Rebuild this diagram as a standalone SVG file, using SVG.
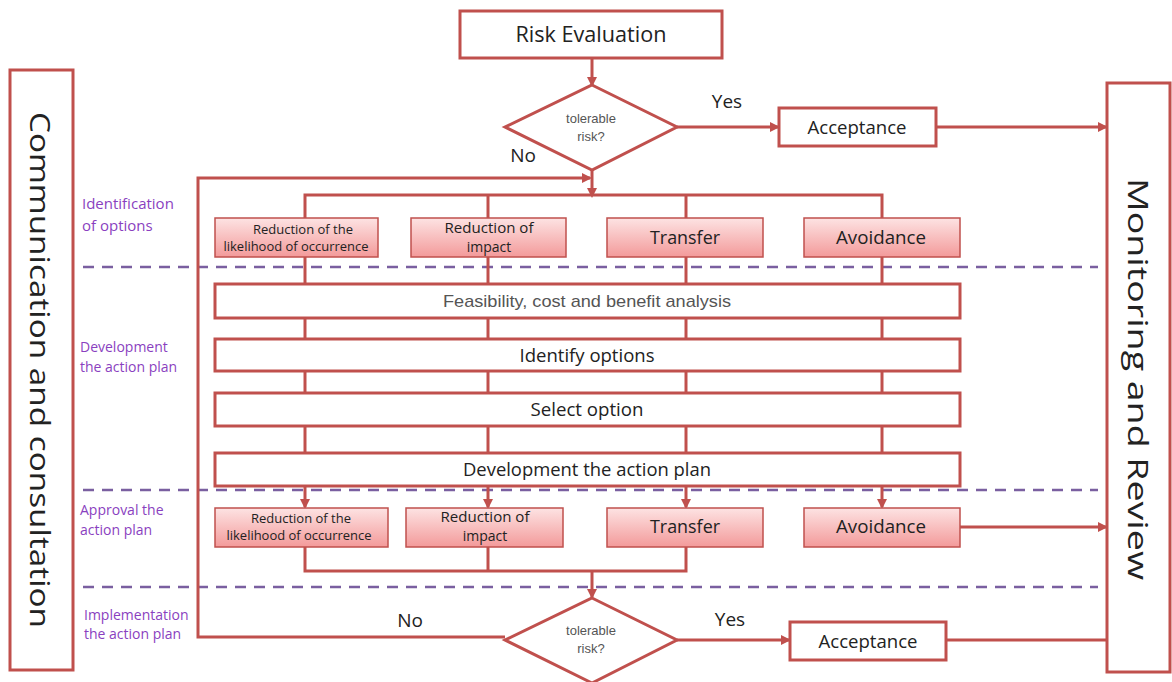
<svg xmlns="http://www.w3.org/2000/svg" width="1172" height="682" viewBox="0 0 1172 682">
<style>
.box{fill:#fff;stroke:#c0504d;stroke-width:3}
.pink{fill:url(#pg);stroke:#c0504d;stroke-width:1.5}
.ln{fill:none;stroke:#c0504d;stroke-width:3}
.arr{fill:none;stroke:#c0504d;stroke-width:3;marker-end:url(#ah)}
.dash{stroke:#7a5fa0;stroke-width:2.5;stroke-dasharray:11 8}
.t{font-family:"Open Sans","Liberation Sans",sans-serif;fill:#222;text-anchor:middle}
.g{font-family:"Liberation Sans",sans-serif;fill:#555;text-anchor:middle;font-size:13px}
.p{font-family:"Open Sans","Liberation Sans",sans-serif;fill:#8a3fc0;font-size:15px}
</style>
<defs>
<linearGradient id="pg" x1="0" y1="0" x2="0" y2="1">
<stop offset="0" stop-color="#fde3e3"/>
<stop offset="1" stop-color="#f39a9a"/>
</linearGradient>
<marker id="ah" markerWidth="10" markerHeight="10" refX="8" refY="5" orient="auto" markerUnits="userSpaceOnUse">
<path d="M0,0 L10,5 L0,10 z" fill="#c0504d"/>
</marker>
</defs>
<rect width="1172" height="682" fill="#fff"/>

<g id="dashes">
<line class="dash" x1="83" y1="267" x2="1098" y2="267"/>
<line class="dash" x1="83" y1="490" x2="1098" y2="490"/>
<line class="dash" x1="83" y1="587" x2="1098" y2="587"/>
</g>

<g id="connectors">
<line class="arr" x1="592" y1="58" x2="592" y2="85"/>
<line class="arr" x1="677" y1="127" x2="778" y2="127"/>
<line class="arr" x1="936" y1="127" x2="1106" y2="127"/>
<line class="arr" x1="592" y1="170" x2="592" y2="196"/>
<polyline class="arr" points="505,637 198,637 198,178 590,178"/>
<polyline class="ln" points="305,218 305,195 882,195 882,218"/>
<line class="ln" x1="488" y1="195" x2="488" y2="218"/>
<line class="ln" x1="686" y1="195" x2="686" y2="218"/>
<line class="ln" x1="305" y1="257" x2="305" y2="284"/>
<line class="ln" x1="488" y1="257" x2="488" y2="284"/>
<line class="ln" x1="686" y1="257" x2="686" y2="284"/>
<line class="ln" x1="882" y1="257" x2="882" y2="284"/>
<line class="ln" x1="305" y1="318" x2="305" y2="339"/>
<line class="ln" x1="488" y1="318" x2="488" y2="339"/>
<line class="ln" x1="686" y1="318" x2="686" y2="339"/>
<line class="ln" x1="882" y1="318" x2="882" y2="339"/>
<line class="ln" x1="305" y1="371" x2="305" y2="393"/>
<line class="ln" x1="488" y1="371" x2="488" y2="393"/>
<line class="ln" x1="686" y1="371" x2="686" y2="393"/>
<line class="ln" x1="882" y1="371" x2="882" y2="393"/>
<line class="ln" x1="305" y1="426" x2="305" y2="453"/>
<line class="ln" x1="488" y1="426" x2="488" y2="453"/>
<line class="ln" x1="686" y1="426" x2="686" y2="453"/>
<line class="ln" x1="882" y1="426" x2="882" y2="453"/>
<line class="arr" x1="305" y1="486" x2="305" y2="507"/>
<line class="arr" x1="488" y1="486" x2="488" y2="507"/>
<line class="arr" x1="686" y1="486" x2="686" y2="507"/>
<line class="arr" x1="882" y1="486" x2="882" y2="507"/>
<line class="arr" x1="960" y1="527" x2="1106" y2="527"/>
<polyline class="ln" points="305,547 305,571 686,571 686,547"/>
<line class="ln" x1="488" y1="547" x2="488" y2="571"/>
<line class="arr" x1="592" y1="571" x2="592" y2="597"/>
<line class="arr" x1="677" y1="640" x2="789" y2="640"/>
<line class="ln" x1="946" y1="640" x2="1107" y2="640"/>
</g>

<g id="communication">
<rect class="box" x="10" y="70" width="63" height="600"/>
<text class="t" font-size="28" transform="translate(30,370) rotate(90)" textLength="516" lengthAdjust="spacingAndGlyphs">Communication and consultation</text>
</g>
<g id="monitoring">
<rect class="box" x="1107" y="83" width="63" height="589"/>
<text class="t" font-size="28" transform="translate(1128,379) rotate(90)" textLength="402" lengthAdjust="spacingAndGlyphs">Monitoring and Review</text>
</g>

<g id="risk-evaluation">
<rect class="box" x="460" y="11" width="262" height="47"/>
<text class="t" x="591" y="42" font-size="22" textLength="151" lengthAdjust="spacingAndGlyphs">Risk Evaluation</text>
</g>
<g id="decision1">
<polygon class="box" points="592,85 677,127 592,170 505,127"/>
<text class="g" x="591" y="123">tolerable</text>
<text class="g" x="591" y="141">risk?</text>
<text class="t" x="727" y="108" font-size="19">Yes</text>
<text class="t" x="523" y="162" font-size="19">No</text>
</g>
<g id="acceptance1">
<rect class="box" x="779" y="108" width="157" height="38"/>
<text class="t" x="857" y="134" font-size="19" textLength="99" lengthAdjust="spacingAndGlyphs">Acceptance</text>
</g>

<g id="options-top">
<rect class="pink" x="215" y="218" width="163" height="39"/>
<text class="t" x="303" y="234" font-size="12" textLength="100" lengthAdjust="spacingAndGlyphs">Reduction of the</text>
<text class="t" x="296" y="251" font-size="12" textLength="145" lengthAdjust="spacingAndGlyphs">likelihood of occurrence</text>
<rect class="pink" x="411" y="218" width="155" height="39"/>
<text class="t" x="489" y="233" font-size="14" textLength="89" lengthAdjust="spacingAndGlyphs">Reduction of</text>
<text class="t" x="489" y="252" font-size="14">impact</text>
<rect class="pink" x="607" y="218" width="156" height="39"/>
<text class="t" x="685" y="244" font-size="18" textLength="70" lengthAdjust="spacingAndGlyphs">Transfer</text>
<rect class="pink" x="804" y="218" width="156" height="39"/>
<text class="t" x="881" y="244" font-size="18" textLength="90" lengthAdjust="spacingAndGlyphs">Avoidance</text>
</g>

<g id="feasibility">
<rect class="box" x="215" y="284" width="745" height="34"/>
<text class="g" x="587" y="307" font-size="17" style="font-size:17px" textLength="288" lengthAdjust="spacingAndGlyphs">Feasibility, cost and benefit analysis</text>
</g>
<g id="identify">
<rect class="box" x="215" y="339" width="745" height="32"/>
<text class="t" x="587" y="362" font-size="18" textLength="135" lengthAdjust="spacingAndGlyphs">Identify options</text>
</g>
<g id="select">
<rect class="box" x="215" y="393" width="745" height="33"/>
<text class="t" x="587" y="416" font-size="18" textLength="113" lengthAdjust="spacingAndGlyphs">Select option</text>
</g>
<g id="development">
<rect class="box" x="215" y="453" width="745" height="33"/>
<text class="t" x="587" y="476" font-size="18" textLength="248" lengthAdjust="spacingAndGlyphs">Development the action plan</text>
</g>

<g id="options-bottom">
<rect class="pink" x="215" y="508" width="173" height="39"/>
<text class="t" x="301" y="523" font-size="12" textLength="100" lengthAdjust="spacingAndGlyphs">Reduction of the</text>
<text class="t" x="299" y="540" font-size="12" textLength="145" lengthAdjust="spacingAndGlyphs">likelihood of occurrence</text>
<rect class="pink" x="406" y="508" width="157" height="39"/>
<text class="t" x="485" y="522" font-size="14" textLength="89" lengthAdjust="spacingAndGlyphs">Reduction of</text>
<text class="t" x="485" y="541" font-size="14">impact</text>
<rect class="pink" x="607" y="508" width="156" height="39"/>
<text class="t" x="685" y="533" font-size="18" textLength="70" lengthAdjust="spacingAndGlyphs">Transfer</text>
<rect class="pink" x="804" y="508" width="156" height="39"/>
<text class="t" x="881" y="533" font-size="18" textLength="90" lengthAdjust="spacingAndGlyphs">Avoidance</text>
</g>

<g id="decision2">
<polygon class="box" points="592,598 677,640 592,683 505,640"/>
<text class="g" x="591" y="635">tolerable</text>
<text class="g" x="591" y="653">risk?</text>
<text class="t" x="410" y="627" font-size="19">No</text>
<text class="t" x="730" y="626" font-size="19">Yes</text>
</g>
<g id="acceptance2">
<rect class="box" x="790" y="622" width="156" height="38"/>
<text class="t" x="868" y="648" font-size="19" textLength="99" lengthAdjust="spacingAndGlyphs">Acceptance</text>
</g>

<g id="phase-labels">
<text class="p" x="82" y="209">Identification</text>
<text class="p" x="82" y="231">of options</text>
<text class="p" x="80" y="352" font-size="14" style="font-size:14px">Development</text>
<text class="p" x="80" y="372" style="font-size:14px">the action plan</text>
<text class="p" x="80" y="515" style="font-size:14px">Approval the</text>
<text class="p" x="80" y="535" style="font-size:14px">action plan</text>
<text class="p" x="84" y="620" style="font-size:14px">Implementation</text>
<text class="p" x="84" y="639" style="font-size:14px">the action plan</text>
</g>
</svg>
